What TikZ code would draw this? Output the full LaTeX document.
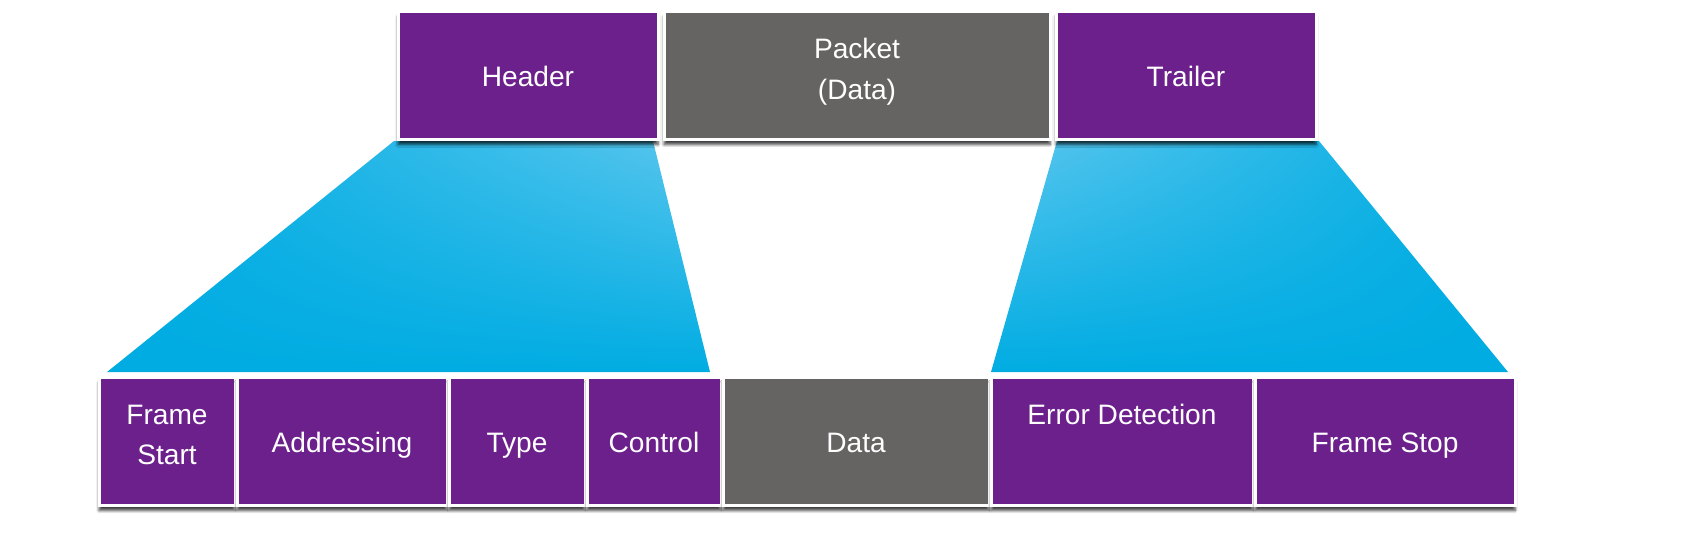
\documentclass[tikz,border=0pt]{standalone}
\usepackage{fontspec}
\setmainfont{Liberation Sans}
\usetikzlibrary{shadows.blur,backgrounds,shadings}
\definecolor{framepurple}{RGB}{108,32,140}
\definecolor{framegray}{RGB}{102,99,99}
\definecolor{funnelblue}{RGB}{0,172,226}
\definecolor{funnellight}{RGB}{90,198,238}
\tikzset{
  field/.style={draw=white, line width=0.03cm, inner sep=0pt, outer sep=0pt,
    anchor=north west, minimum height=1.28cm, text=white, align=center,
    font=\fontsize{8}{11.5}\selectfont,
    execute at begin node=\rule{0pt}{10pt}, execute at end node=\strut,
    blur shadow={shadow xshift=0pt, shadow yshift=-1.6pt, shadow blur radius=0.8pt,
      shadow blur steps=6, shadow opacity=75}},
  hdrfield/.style={field, fill=framepurple},
  datafield/.style={field, fill=framegray},
  twolines/.style={execute at begin node=\rule{0pt}{14pt}}
}

\begin{document}
\begin{tikzpicture}
  \useasboundingbox (0,0) rectangle (16.98,-5.5);
  % upper layer view of the frame
  \node[hdrfield, minimum width=2.60cm] (hdr) at (3.98,-0.11) {Header};
  \node[datafield, twolines, minimum width=3.86cm] (pkt) at (6.64,-0.11) {Packet\\(Data)};
  \node[hdrfield, minimum width=2.60cm] (trl) at (10.56,-0.11) {Trailer};
  % the frame field by field
  \node[hdrfield, twolines, minimum width=1.36cm] (start) at (0.99,-3.77) {Frame\\Start};
  \node[hdrfield, minimum width=2.10cm] (addr) at (2.37,-3.77) {Addressing};
  \node[hdrfield, minimum width=1.36cm] (type) at (4.49,-3.77) {Type};
  \node[hdrfield, minimum width=1.34cm] (ctrl) at (5.87,-3.77) {Control};
  \node[datafield, minimum width=2.66cm] (data) at (7.23,-3.77) {Data};
  \node[hdrfield, twolines, minimum width=2.62cm] (err) at (9.91,-3.77) {Error Detection\\\phantom{X}};
  \node[hdrfield, minimum width=2.60cm] (stop) at (12.55,-3.77) {Frame Stop};
  % blue funnels behind the boxes
  \begin{scope}[on background layer]
    \shade[upper left=funnelblue, upper right=funnellight, lower left=funnelblue, lower right=funnelblue]
      ([xshift=-0.04cm,yshift=-0.02cm]hdr.south west) -- ([xshift=-0.05cm,yshift=-0.02cm]hdr.south east)
      -- ([xshift=-0.11cm,yshift=0.05cm]ctrl.north east) -- ([xshift=0.08cm,yshift=0.05cm]start.north west) -- cycle;
    \shade[upper left=funnellight, upper right=funnelblue, lower left=funnelblue, lower right=funnelblue]
      ([xshift=0.01cm,yshift=-0.02cm]trl.south west) -- ([xshift=0.03cm,yshift=-0.02cm]trl.south east)
      -- ([xshift=-0.07cm,yshift=0.05cm]stop.north east) -- ([yshift=0.05cm]err.north west) -- cycle;
  \end{scope}
\end{tikzpicture}
\end{document}
